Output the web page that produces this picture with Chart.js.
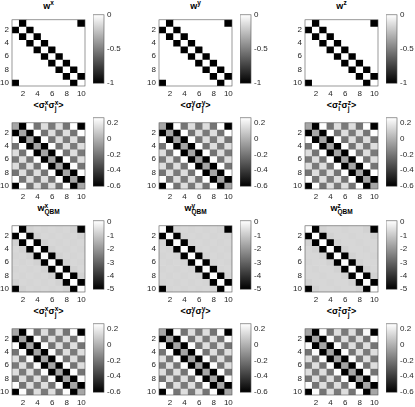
<!DOCTYPE html>
<html><head><meta charset="utf-8">
<script src="https://cdn.jsdelivr.net/npm/chart.js@4/dist/chart.umd.min.js"></script>
<style>
html,body{margin:0;padding:0;background:#fff;}
body{width:415px;height:407px;position:relative;overflow:hidden;font-family:"Liberation Sans",Arial,sans-serif;}
canvas{position:absolute;}
.title{position:absolute;font-weight:bold;font-size:9px;color:#000;white-space:nowrap;transform:translateX(-50%);line-height:10px;}
.sup{font-size:6.5px;vertical-align:4px;}
.st{display:inline-block;font-size:6.5px;line-height:6px;vertical-align:-3px;text-align:left;}
.st span{display:block;}
</style></head><body>
<script>
// ---------- data ----------
const indices = [1, 2, 3, 4, 5, 6, 7, 8, 9, 10];
const axisTickLabels = [2, 4, 6, 8, 10];
const components = ['x', 'y', 'z'];
// values by ring distance d = 0..5 (circulant 10x10 matrices)
const wTrueByDistance = [0, -1, 0, 0, 0, 0];
const corrTrueByDistance = [-0.04, -0.60, 0.26, -0.21, 0.15, -0.19];
const wQbmByDistanceX = [0.05, -5, -0.8, -0.7, -0.75, -0.7];
const wQbmByDistanceY = [0.05, -5, -0.75, -0.7, -0.75, -0.7];
const wQbmByDistanceZ = [0.05, -5, -0.8, -0.7, -0.7, -0.75];
const corrQbmByDistance = [-0.04, -0.60, 0.25, -0.21, 0.15, -0.19];
// colour ranges and colorbar ticks
const wRange = [-1, 0];
const wTicks = [0, -0.5, -1];
const corrRange = [-0.6, 0.26];
const corrTicks = [0.2, 0, -0.2, -0.4, -0.6];
const qbmRange = [-5, 0.1];
const qbmTicks = [0, -1, -2, -3, -4, -5];

// ---------- layout ----------
const colLefts = [12, 159, 305];
const rowTops = [12, 115, 218, 321];
const HW = 73, HH = 74;
const FONT = '"Liberation Sans", Arial, sans-serif';
const TXT = '#262626';

function circulant(byDist) {
  const N = indices.length;
  return indices.map(i => indices.map(j => {
    const d = Math.abs(i - j);
    return byDist[Math.min(d, N - d)];
  }));
}
function gray(v, lo, hi) {
  let t = (v - lo) / (hi - lo);
  t = Math.max(0, Math.min(1, t));
  const g = Math.round(t * 255);
  return `rgb(${g},${g},${g})`;
}
const boxPlugin = {
  id: 'box',
  afterDraw(chart) {
    const a = chart.chartArea, c = chart.ctx;
    c.save();
    c.strokeStyle = '#555';
    c.lineWidth = 0.6;
    c.strokeRect(a.left, a.top, a.right - a.left, a.bottom - a.top);
    c.restore();
  }
};

function heatmap(left, top, matrix, range) {
  const YW = 14, XH = 12, PR = 6;
  const cv = document.createElement('canvas');
  cv.width = YW + HW + PR; cv.height = HH + XH;
  cv.style.left = (left - YW) + 'px'; cv.style.top = top + 'px';
  document.body.appendChild(cv);
  const datasets = matrix.map((row, i) => ({
    data: row.map(() => [indices[i] - 0.5, indices[i] + 0.5]),
    backgroundColor: row.map(v => gray(v, range[0], range[1])),
    borderWidth: 0,
    categoryPercentage: 1, barPercentage: 1, grouped: false
  }));
  new Chart(cv, {
    type: 'bar',
    data: { labels: indices.map(String), datasets },
    options: {
      responsive: false, animation: false, devicePixelRatio: 1,
      layout: { padding: { left: 0, top: 0, right: PR, bottom: 0 } },
      plugins: { legend: { display: false }, tooltip: { enabled: false } },
      scales: {
        x: {
          type: 'category', offset: true,
          grid: { display: false, drawTicks: false }, border: { display: false },
          ticks: { autoSkip: false, maxRotation: 0, padding: 3, color: TXT, font: { size: 8, family: FONT },
            callback: (v, i) => axisTickLabels.includes(indices[i]) ? String(indices[i]) : '' },
          afterFit: s => { s.height = XH; }
        },
        y: {
          type: 'linear', reverse: true, min: 0.5, max: indices.length + 0.5,
          grid: { display: false, drawTicks: false }, border: { display: false },
          afterBuildTicks: s => { s.ticks = axisTickLabels.map(v => ({ value: v })); },
          ticks: { padding: 3, color: TXT, font: { size: 8, family: FONT } },
          afterFit: s => { s.width = YW; }
        }
      }
    },
    plugins: [boxPlugin]
  });
}

function colorbar(left, top, range, ticks) {
  const CW = 11, AW = 26, PT = 5, PB = 5;
  const cv = document.createElement('canvas');
  cv.width = CW + AW; cv.height = HH + PT + PB;
  cv.style.left = left + 'px'; cv.style.top = (top - PT) + 'px';
  document.body.appendChild(cv);
  new Chart(cv, {
    type: 'bar',
    data: { labels: ['cb'], datasets: [{
      data: [[range[0], range[1]]],
      backgroundColor: ctx => {
        const ch = ctx.chart;
        if (!ch.chartArea) return '#888';
        const y = ch.scales.y;
        const g = ch.ctx.createLinearGradient(0, y.getPixelForValue(range[0]), 0, y.getPixelForValue(range[1]));
        g.addColorStop(0, '#000'); g.addColorStop(1, '#fff');
        return g;
      },
      borderWidth: 0, categoryPercentage: 1, barPercentage: 1
    }] },
    options: {
      responsive: false, animation: false, devicePixelRatio: 1,
      layout: { padding: { left: 0, top: PT, right: 0, bottom: PB } },
      plugins: { legend: { display: false }, tooltip: { enabled: false } },
      scales: {
        x: { display: false },
        y: {
          position: 'right', min: range[0], max: range[1],
          grid: { display: false, drawTicks: false }, border: { display: false },
          afterBuildTicks: s => { s.ticks = ticks.map(v => ({ value: v })); },
          ticks: { padding: 3, color: TXT, font: { size: 8, family: FONT }, callback: v => String(v) },
          afterFit: s => { s.width = AW; }
        }
      }
    },
    plugins: [boxPlugin]
  });
}

function title(cx, bottomY, html) {
  const d = document.createElement('div');
  d.className = 'title';
  d.innerHTML = html;
  d.style.left = cx + 'px';
  d.style.bottom = (407 - bottomY) + 'px';
  document.body.appendChild(d);
}
const stack = (a, b) => `<span class="st"><span>${a}</span><span>${b}</span></span>`;

const rows = [
  { mats: [wTrueByDistance, wTrueByDistance, wTrueByDistance], range: wRange, ticks: wTicks,
    title: c => `w<span class="sup">${c}</span>`, tb: 1 },
  { mats: [corrTrueByDistance, corrTrueByDistance, corrTrueByDistance], range: corrRange, ticks: corrTicks,
    title: c => `&lt;σ${stack(c, 'i')}σ${stack(c, 'j')}&gt;`, tb: 3 },
  { mats: [wQbmByDistanceX, wQbmByDistanceY, wQbmByDistanceZ], range: qbmRange, ticks: qbmTicks,
    title: c => `w${stack(c, 'QBM')}`, tb: 3 },
  { mats: [corrQbmByDistance, corrQbmByDistance, corrQbmByDistance], range: corrRange, ticks: corrTicks,
    title: c => `&lt;σ${stack(c, 'i')}σ${stack(c, 'j')}&gt;`, tb: 3 }
];

rows.forEach((r, ri) => {
  components.forEach((c, ci) => {
    const L = colLefts[ci], T = rowTops[ri];
    heatmap(L, T, circulant(r.mats[ci]), r.range);
    colorbar(L + 81, T, r.range, r.ticks);
    title(L + HW / 2, T - r.tb, r.title(c));
  });
});
</script>
</body></html>
